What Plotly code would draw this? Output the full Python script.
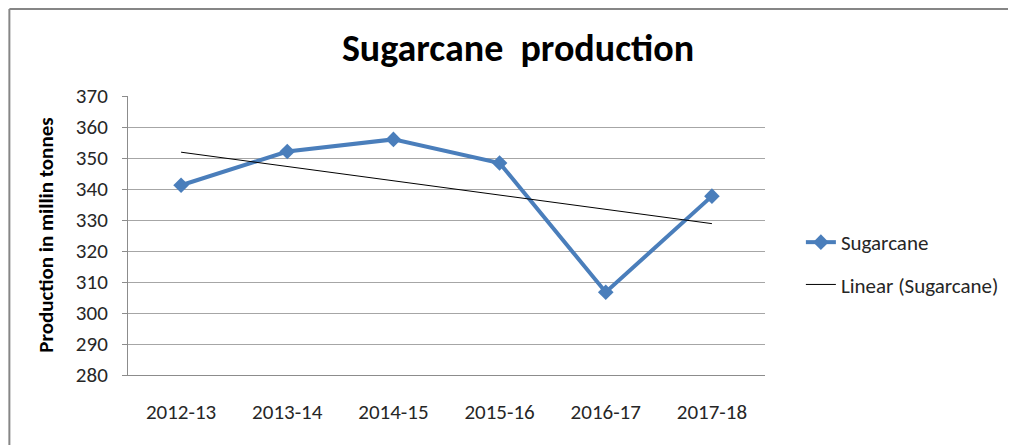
import numpy as np
import plotly.graph_objects as go

years = ["2012-13", "2013-14", "2014-15", "2015-16", "2016-17", "2017-18"]
sugarcane = [341.2, 352.1, 356.0, 348.4, 306.7, 337.7]
y_ticks = [280, 290, 300, 310, 320, 330, 340, 350, 360, 370]

# Linear trendline (least squares), as in the original "Linear (Sugarcane)"
xi = np.arange(len(years))
slope, intercept = np.polyfit(xi, sugarcane, 1)
trend = list(slope * xi + intercept)

FONT = "Carlito, Calibri, Lato, 'Open Sans', sans-serif"
TXT = "#262626"

# figure is placed by the page with an 8px body margin
W, H = 1008, 437
L, R, T, B = 120, 249, 88, 70
PW, PH = W - L - R, H - T - B

fig = go.Figure()
fig.add_trace(go.Scatter(
    x=years, y=sugarcane, mode="lines+markers", name="Sugarcane",
    line=dict(color="#4a7ebb", width=4),
    marker=dict(symbol="diamond", size=12, color="#4a7ebb"),
    legendgroup="a",
))
fig.add_trace(go.Scatter(
    x=years, y=trend, mode="lines", name="Linear (Sugarcane)",
    line=dict(color="#000000", width=1),
    legendgroup="b",
))

fig.update_layout(
    width=W, height=H,
    margin=dict(l=L, r=R, t=T, b=B),
    paper_bgcolor="white", plot_bgcolor="white",
    font=dict(family=FONT, size=21, color=TXT),
    title=dict(text="<b>Sugarcane  production</b>", x=510 / W, xanchor="center",
               y=1 - 40 / H, yanchor="middle",
               font=dict(family=FONT, size=38, color="#000000")),
    showlegend=True,
    legend=dict(x=(795 - L) / PW, xanchor="left", y=1 - (214 - T) / PH, yanchor="top",
                font=dict(family=FONT, size=21, color=TXT),
                tracegroupgap=12, traceorder="grouped",
                bgcolor="rgba(0,0,0,0)"),
    xaxis=dict(type="category", range=[-0.5, 5.5], showgrid=False,
               showline=True, linecolor="#8c8c8c", linewidth=1,
               ticks="", ticklabelstandoff=18, tickfont=dict(size=21, color=TXT),
               zeroline=False, fixedrange=True),
    yaxis=dict(range=[280, 370], tickvals=y_ticks, showgrid=True,
               gridcolor="#a6a6a6", gridwidth=1,
               showline=True, linecolor="#8c8c8c", linewidth=1,
               ticks="outside", ticklen=5, tickcolor="#8c8c8c",
               ticklabelstandoff=10, tickfont=dict(size=21, color=TXT),
               zeroline=False, fixedrange=True),
    annotations=[dict(text="<b>Production in millin tonnes</b>",
                      xref="paper", yref="paper",
                      x=(37 - L) / PW, y=0.5, xanchor="center", yanchor="middle",
                      textangle=-90, showarrow=False,
                      font=dict(family=FONT, size=21, color="#000000"))],
    shapes=[
        dict(type="line", xref="paper", yref="paper",
             x0=(1 - L) / PW, x1=(1 - L) / PW,
             y0=1 + (T - 1) / PH, y1=-B / PH - 0.05,
             line=dict(color="#868686", width=2)),
        dict(type="line", xref="paper", yref="paper",
             x0=(1 - L) / PW, x1=(W - L) / PW + 0.05,
             y0=1 + (T - 1) / PH, y1=1 + (T - 1) / PH,
             line=dict(color="#868686", width=2)),
    ],
)

fig.write_html("out.html")
